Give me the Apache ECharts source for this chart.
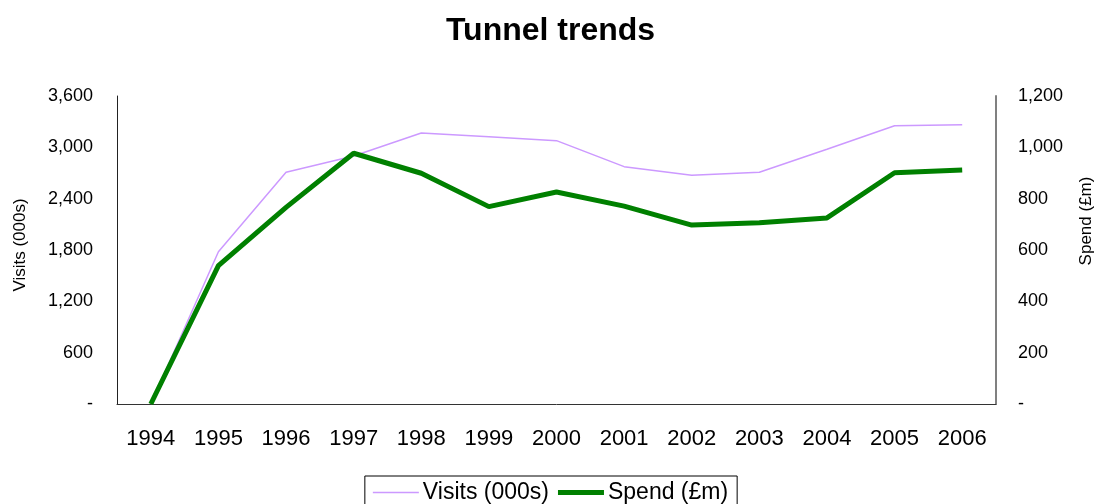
<!DOCTYPE html>
<html>
<head>
<meta charset="utf-8">
<title>Tunnel trends</title>
<script src="https://cdn.jsdelivr.net/npm/echarts@6/dist/echarts.min.js"></script>
<style>
  html, body { margin: 0; padding: 0; background: #ffffff; }
  #chart { width: 1101px; height: 504px; }
</style>
</head>
<body>
<div id="chart"></div>
<script>
// Years on the category axis
const years = ['1994', '1995', '1996', '1997', '1998', '1999', '2000',
               '2001', '2002', '2003', '2004', '2005', '2006'];

// Visits, thousands (left axis)
const visits = [0, 1780, 2708, 2899, 3167, 3124, 3078, 2774, 2673, 2708, 2977, 3253, 3265];

// Spend, £ millions (right axis)
const spend = [0, 539, 766, 977, 899, 769, 826, 771, 697, 706, 725, 901, 912];

// Axis ranges and steps
const visitsAxis = { min: 0, max: 3600, step: 600 };
const spendAxis = { min: 0, max: 1200, step: 200 };

const FONT = 'Liberation Sans, Arial, sans-serif';

function fmt(v) {
  return v === 0 ? '-' : v.toLocaleString('en-US');
}

const chart = echarts.init(document.getElementById('chart'), null, { renderer: 'canvas' });

chart.setOption({
  animation: false,
  backgroundColor: '#ffffff',
  title: {
    text: 'Tunnel trends',
    left: 'center',
    top: 10,
    textStyle: { fontFamily: FONT, fontSize: 32, fontWeight: 'bold', color: '#000000' }
  },
  grid: { left: 117, right: 105, top: 96, bottom: 100, containLabel: false },
  legend: {
    top: 476,
    left: 'center',
    padding: [5, 9, 8, 8],
    borderColor: '#000000',
    borderWidth: 1,
    itemWidth: 46,
    itemHeight: 14,
    itemGap: 9,
    textStyle: { fontFamily: FONT, fontSize: 23, color: '#000000', padding: [0, 0, 0, -1] },
    data: [
      // flat bars standing in for each line's stroke
      { name: 'Visits (000s)', icon: 'path://M0,0H46V1.5H0Z' },
      { name: 'Spend (£m)', icon: 'path://M0,0H46V5H0Z' }
    ]
  },
  xAxis: {
    type: 'category',
    data: years,
    boundaryGap: true,
    axisLine: { show: true, lineStyle: { color: '#333333', width: 1 } },
    axisTick: { show: false },
    axisLabel: { fontFamily: FONT, fontSize: 22, color: '#000000', margin: 24 },
    splitLine: { show: false }
  },
  yAxis: [
    {
      type: 'value',
      position: 'left',
      min: visitsAxis.min,
      max: visitsAxis.max,
      interval: visitsAxis.step,
      axisLine: { show: true, lineStyle: { color: '#222222', width: 1 } },
      axisTick: { show: false },
      axisLabel: { fontFamily: FONT, fontSize: 18, color: '#000000', margin: 24, formatter: fmt, padding: [4, 0, 0, 0] },
      splitLine: { show: false }
    },
    {
      type: 'value',
      position: 'right',
      min: spendAxis.min,
      max: spendAxis.max,
      interval: spendAxis.step,
      axisLine: { show: true, lineStyle: { color: '#808080', width: 2 } },
      axisTick: { show: false },
      axisLabel: { fontFamily: FONT, fontSize: 18, color: '#000000', margin: 22, formatter: fmt, padding: [4, 0, 0, 0] },
      splitLine: { show: false }
    }
  ],
  graphic: [
    {
      type: 'text',
      x: 20, y: 245,
      rotation: Math.PI / 2,
      style: {
        text: 'Visits (000s)',
        fontFamily: FONT, fontSize: 17, fill: '#000000',
        textAlign: 'center', textVerticalAlign: 'middle'
      }
    },
    {
      type: 'text',
      x: 1086, y: 221,
      rotation: Math.PI / 2,
      style: {
        text: 'Spend (£m)',
        fontFamily: FONT, fontSize: 17, fill: '#000000',
        textAlign: 'center', textVerticalAlign: 'middle'
      }
    }
  ],
  series: [
    {
      name: 'Visits (000s)',
      type: 'line',
      yAxisIndex: 0,
      data: visits,
      symbol: 'none',
      lineStyle: { color: '#cc99ff', width: 1.5 },
      itemStyle: { color: '#cc99ff' },
      z: 2
    },
    {
      name: 'Spend (£m)',
      type: 'line',
      yAxisIndex: 1,
      data: spend,
      symbol: 'none',
      lineStyle: { color: '#008000', width: 5 },
      itemStyle: { color: '#008000' },
      z: 3
    }
  ]
});
</script>
</body>
</html>
